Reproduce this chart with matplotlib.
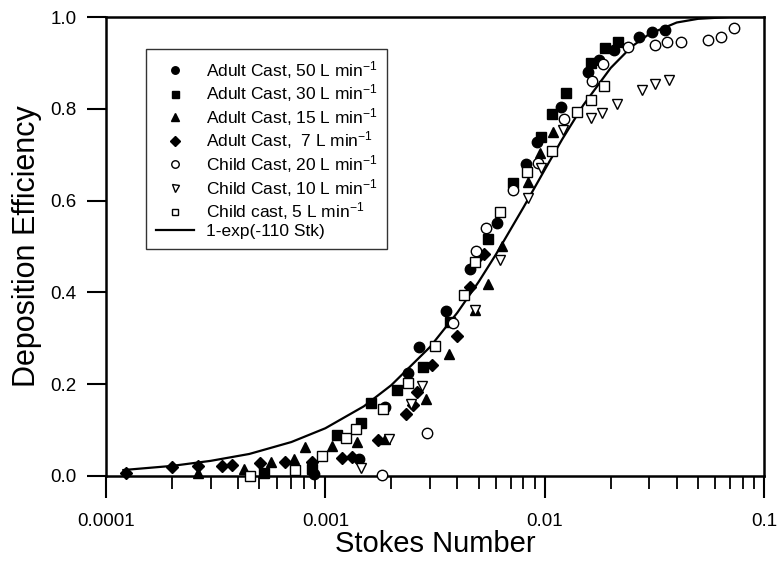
import matplotlib.pyplot as plt
from matplotlib.ticker import FixedLocator, LogLocator, NullFormatter

plt.rcParams['font.family'] = ['Liberation Sans', 'DejaVu Sans']
plt.rcParams['mathtext.fontset'] = 'custom'
plt.rcParams['mathtext.rm'] = 'Liberation Sans'
plt.rcParams['mathtext.it'] = 'Liberation Sans'

# data (Stokes number, deposition efficiency)
adult50_x = [0.000888, 0.001425, 0.00187, 0.00238, 0.00266, 0.00354, 0.00457, 0.00608,
             0.0082, 0.0092, 0.0119, 0.0157, 0.0177, 0.0206, 0.0268, 0.0310, 0.0354]
adult50_y = [0.004, 0.037, 0.151, 0.224, 0.280, 0.360, 0.450, 0.552,
             0.680, 0.727, 0.805, 0.880, 0.906, 0.928, 0.957, 0.968, 0.972]

adult30_x = [0.000525, 0.00087, 0.00113, 0.00145, 0.00161, 0.00213, 0.00278, 0.0037,
             0.00554, 0.00719, 0.0096, 0.01077, 0.01253, 0.0163, 0.0188, 0.0215]
adult30_y = [0.007, 0.015, 0.089, 0.115, 0.160, 0.187, 0.237, 0.336,
             0.516, 0.639, 0.739, 0.789, 0.834, 0.900, 0.933, 0.946]

adult15_x = [0.000262, 0.000426, 0.000566, 0.000722, 0.000806, 0.001077, 0.0014, 0.00187,
             0.00287, 0.00366, 0.00482, 0.0055, 0.0064, 0.00837, 0.0095, 0.0109]
adult15_y = [0.007, 0.015, 0.030, 0.036, 0.063, 0.065, 0.073, 0.081,
             0.168, 0.266, 0.362, 0.418, 0.502, 0.641, 0.703, 0.750]

adult7_x = [0.000124, 0.000199, 0.000262, 0.000337, 0.000377, 0.000504, 0.000655, 0.000867,
            0.00119, 0.00133, 0.00173, 0.00233, 0.0025, 0.00261, 0.00305, 0.00397,
            0.00457, 0.00507, 0.0053]
adult7_y = [0.006, 0.019, 0.022, 0.022, 0.024, 0.028, 0.030, 0.031,
            0.040, 0.042, 0.078, 0.134, 0.155, 0.184, 0.242, 0.306,
            0.412, 0.481, 0.484]

child20_x = [0.00181, 0.0029, 0.00384, 0.00485, 0.00541, 0.00715, 0.0093, 0.01224,
             0.0165, 0.0185, 0.0241, 0.0318, 0.0360, 0.0419, 0.0554, 0.0637, 0.0733]
child20_y = [0.002, 0.094, 0.333, 0.491, 0.541, 0.623, 0.683, 0.777,
             0.861, 0.897, 0.934, 0.940, 0.946, 0.946, 0.950, 0.957, 0.975]

child10_x = [0.001455, 0.00195, 0.00246, 0.00277, 0.00482, 0.00626, 0.00843, 0.00962,
             0.01206, 0.0163, 0.0182, 0.0213, 0.0279, 0.0318, 0.0368]
child10_y = [0.017, 0.081, 0.156, 0.195, 0.362, 0.471, 0.606, 0.672,
             0.754, 0.779, 0.790, 0.811, 0.841, 0.853, 0.863]

child5_x = [0.000454, 0.000731, 0.000962, 0.00124, 0.00138, 0.00183, 0.00239, 0.00316,
            0.0043, 0.00482, 0.00626, 0.00833, 0.0108, 0.0141, 0.0162, 0.0186]
child5_y = [0.001, 0.012, 0.044, 0.082, 0.102, 0.145, 0.202, 0.283,
            0.394, 0.467, 0.576, 0.662, 0.709, 0.792, 0.819, 0.850]

# fitted curve, 1-exp(-110 Stk), as drawn
fit_x = [0.00012, 0.0002, 0.0003, 0.00045, 0.0007, 0.001, 0.0015, 0.002, 0.003, 0.004,
         0.005, 0.006, 0.008, 0.01, 0.012, 0.015, 0.02, 0.025, 0.03, 0.04, 0.05, 0.07, 0.1]
fit_y = [0.013, 0.022, 0.033, 0.048, 0.074, 0.104, 0.152, 0.198, 0.281, 0.356,
         0.423, 0.483, 0.585, 0.667, 0.733, 0.808, 0.889, 0.936, 0.963, 0.988, 0.996, 1.0, 1.0]

x_ticks = [0.0001, 0.001, 0.01, 0.1]
x_tick_labels = ['0.0001', '0.001', '0.01', '0.1']
y_ticks = [0.0, 0.2, 0.4, 0.6, 0.8, 1.0]

fig = plt.figure(figsize=(7.81, 5.73), dpi=100)
ax = fig.add_axes([106 / 781, 1 - 476 / 573, 658 / 781, 459 / 573])

# (x, y, marker, filled, size, label)
series = [
    (adult50_x, adult50_y, 'o', True, 7.5, 'Adult Cast, 50 L min$^{-1}$'),
    (adult30_x, adult30_y, 's', True, 7, 'Adult Cast, 30 L min$^{-1}$'),
    (adult15_x, adult15_y, '^', True, 7.5, 'Adult Cast, 15 L min$^{-1}$'),
    (adult7_x, adult7_y, 'D', True, 6.5, 'Adult Cast,  7 L min$^{-1}$'),
    (child20_x, child20_y, 'o', False, 7.5, 'Child Cast, 20 L min$^{-1}$'),
    (child10_x, child10_y, 'v', False, 7, 'Child Cast, 10 L min$^{-1}$'),
    (child5_x, child5_y, 's', False, 6.5, 'Child cast, 5 L min$^{-1}$'),
]

handles = []
for x, y, m, filled, ms, lab in series:
    ax.plot(x, y, linestyle='none', marker=m, markersize=ms,
            markerfacecolor='black' if filled else 'white',
            markeredgecolor='black', markeredgewidth=1.0, clip_on=False, zorder=3)
    h, = plt.plot([], [], linestyle='none', marker=m, markersize=ms * 0.72,
                  markerfacecolor='black' if filled else 'white',
                  markeredgecolor='black', markeredgewidth=1.0, label=lab)
    handles.append(h)

line, = ax.plot(fit_x, fit_y, color='black', linewidth=1.6, zorder=2,
                label='1-exp(-110 Stk)')
handles.append(line)

ax.set_xscale('log')
ax.set_xlim(0.0001, 0.1)
ax.set_ylim(0, 1.0)

ax.xaxis.set_major_locator(FixedLocator(x_ticks))
ax.set_xticklabels(x_tick_labels)
ax.xaxis.set_minor_locator(LogLocator(base=10, subs=range(2, 10)))
ax.xaxis.set_minor_formatter(NullFormatter())
ax.set_yticks(y_ticks)
ax.set_yticklabels(['%.1f' % v for v in y_ticks])

ax.tick_params(axis='x', which='major', direction='out', length=16, width=1.5,
               pad=11, labelsize=13.5)
ax.tick_params(axis='x', which='minor', direction='out', length=9, width=1.3)
ax.tick_params(axis='y', which='major', direction='out', length=14, width=1.5,
               pad=7, labelsize=13.5)
for s in ax.spines.values():
    s.set_linewidth(1.8)

ax.set_xlabel('Stokes Number', fontsize=21, labelpad=0)
ax.set_ylabel('Deposition Efficiency', fontsize=22, labelpad=6)

leg = ax.legend(handles=handles, loc='upper left', bbox_to_anchor=(0.061, 0.930),
                borderaxespad=0, fontsize=12.5, frameon=True, fancybox=False,
                handlelength=2.2, handletextpad=0.7, labelspacing=0.1,
                borderpad=0.55)
leg.get_frame().set_edgecolor('black')
leg.get_frame().set_linewidth(1.0)

fig.savefig('out.png', dpi=100)
